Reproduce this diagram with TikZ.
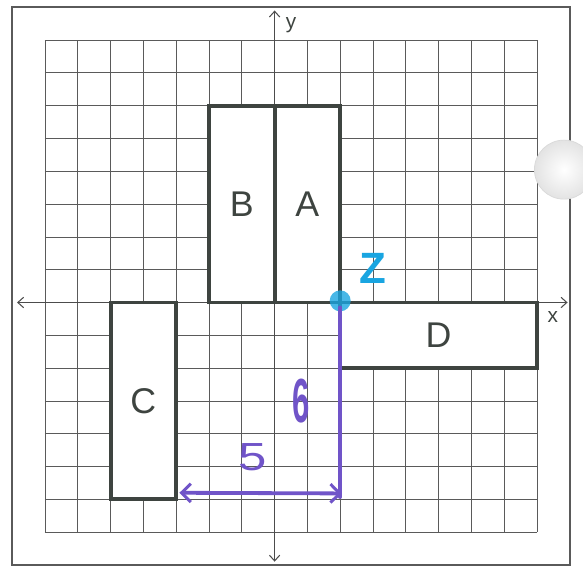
\documentclass[tikz,border=0pt]{standalone}
\usepackage{fontspec}
\setmainfont{Liberation Sans}
\usetikzlibrary{arrows.meta}
\definecolor{gridc}{RGB}{90,90,90}
\definecolor{boxc}{RGB}{62,68,64}
\definecolor{pen}{RGB}{112,84,200}
\definecolor{ink}{RGB}{25,165,225}
\begin{document}
\begin{tikzpicture}[x=1cm,y=1cm,
  frameline/.style={draw=gridc, line width=1.4pt},
  gridline/.style={draw=gridc, line width=0.6pt},
  axisline/.style={draw=gridc!85!black, line width=0.9pt,
    {Straight Barb[length=5pt,width=9pt]}-{Straight Barb[length=5pt,width=9pt]}},
  piece/.style={draw=boxc, line width=3.4pt, fill=white, inner sep=0pt,
    font=\fontsize{31}{31}\selectfont, text=boxc},
  axislabel/.style={font=\fontsize{18}{18}\selectfont, text=boxc},
  penline/.style={draw=pen, line width=3.3pt, line cap=round},
  pentip/.tip={Straight Barb[length=8pt,width=16pt,line width=2.6pt]},
  penlabel/.style={text=pen, font=\fontsize{34}{34}\selectfont, inner sep=0pt},
  inklabel/.style={text=ink, font=\bfseries\fontsize{38}{38}\selectfont, inner sep=0pt}
]
\useasboundingbox (-8.37,-8.12) rectangle (9.40,9.22);
\clip (-8.37,-8.12) rectangle (9.40,9.22);
\fill[white] (-8.37,-8.12) rectangle (9.40,9.22);
% frame and grid
\draw[frameline] (-8,-8) rectangle (9,9);
\draw[gridline] (-7,-7) grid (8,8);
% hole reinforcement
\shade[inner color=white, outer color=gray!22, draw=gray!30, line width=0.6pt]
  (8.82,4.05) circle (0.9);
% axes
\coordinate (xl) at (-7.85,0);
\coordinate (xr) at (8.93,0);
\coordinate (yb) at (0,-7.9);
\coordinate (yt) at (0,8.9);
\draw[axisline] (xl) -- (xr);
\draw[axisline] (yb) -- (yt);
\node[axislabel] (xlab) at (8.48,-0.44) {x};
\node[axislabel] (ylab) at (0.5,8.45) {y};
% pieces
\node[piece, minimum width=2cm, minimum height=6cm] (A) at (1,3) {A};
\node[piece, minimum width=2cm, minimum height=6cm] (B) at (-1,3) {B};
\node[piece, minimum width=2cm, minimum height=6cm] (C) at (-4,-3) {C};
\node[piece, minimum width=6cm, minimum height=2cm] (D) at (5,-1) {D};
% blue point
\node[circle, fill=ink, fill opacity=0.8, minimum size=0.64cm, inner sep=0pt] (pt) at (2,0.05) {};
\node[inklabel] (zlab) at (3.0,1.05) {Z};
% purple measurements
\coordinate (top) at (2,-0.15);
\coordinate (bot) at (2,-5.93);
\coordinate (hl) at (-2.9,-5.8);
\coordinate (hr) at (2.05,-5.82);
\draw[penline] (top) -- (bot);
\draw[penline, pentip-pentip] (hl) -- (hr);
\node[penlabel, font=\bfseries\fontsize{54}{54}\selectfont] (six) at (0.8,-3.0) {\scalebox{0.5}[1]{6}};
\node[penlabel] (five) at (-0.66,-4.72) {\scalebox{1.3}[1]{5}};
\end{tikzpicture}
\end{document}
